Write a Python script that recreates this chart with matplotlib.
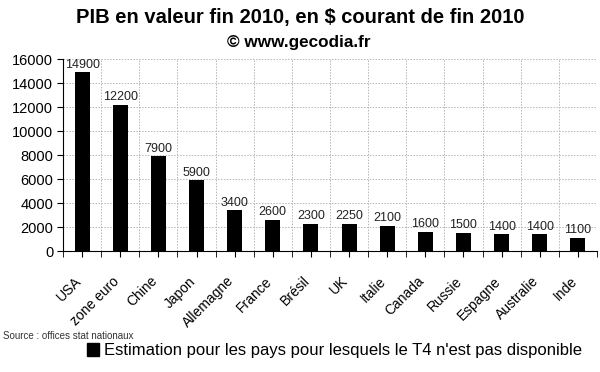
import matplotlib
matplotlib.use('Agg')
import matplotlib.pyplot as plt
import matplotlib.transforms as mtransforms
import numpy as np
from matplotlib.patches import Patch

# data
pays = ['USA', 'zone euro', 'Chine', 'Japon', 'Allemagne', 'France', 'Brésil',
        'UK', 'Italie', 'Canada', 'Russie', 'Espagne', 'Australie', 'Inde']
pib = [14900, 12200, 7900, 5900, 3400, 2600, 2300, 2250, 2100, 1600, 1500,
       1400, 1400, 1100]

plt.rcParams['font.family'] = ['Liberation Sans', 'DejaVu Sans']

fig = plt.figure(figsize=(6, 3.72), dpi=100)
ax = fig.add_axes([0.105, 0.325, 0.89, 0.516])

x = np.arange(len(pays))
bars = ax.bar(x, pib, width=0.39, color='black', zorder=3)

# value labels above the bars
for xi, v in zip(x, pib):
	ax.text(xi, v + 150, str(v), ha='center', va='bottom', fontsize=9,
	        color='#222222')

ax.set_xlim(-0.5, len(pays) - 0.5)
ax.set_ylim(0, 16000)
ax.set_yticks(np.arange(0, 16001, 2000))
ax.tick_params(axis='y', labelsize=10.5, length=4, pad=3)

# category labels, ticks at boundaries and at centres
ax.set_xticks(x)
ax.set_xticklabels(pays, rotation=45, ha='right', rotation_mode='anchor',
                   fontsize=10)
ax.set_xticks(np.arange(-0.5, len(pays), 1), minor=True)
ax.tick_params(axis='x', which='both', length=4, pad=6)
offset = mtransforms.ScaledTranslation(-8 / 100, -9 / 100, fig.dpi_scale_trans)
for lab in ax.get_xticklabels():
	lab.set_transform(lab.get_transform() + offset)

# dotted grid
ax.grid(axis='y', which='major', color='#b5b5b5', linestyle=(0, (1.5, 1.5)),
        linewidth=0.7, zorder=0)
ax.grid(axis='x', which='minor', color='#b5b5b5', linestyle=(0, (1.5, 1.5)),
        linewidth=0.7, zorder=0)
ax.grid(axis='x', which='major', visible=False)

for s in ['top', 'right']:
	ax.spines[s].set_visible(False)

# titles
fig.text(0.5, 0.952, 'PIB en valeur fin 2010, en $ courant de fin 2010',
         ha='center', va='center', fontsize=14.5, fontweight='bold')
fig.text(0.498, 0.885, '© www.gecodia.fr', ha='center', va='center',
         fontsize=12.3, fontweight='bold')

# source + legend
fig.text(0.005, 0.098, 'Source : offices stat nationaux', ha='left',
         va='center', fontsize=7, color='#333333',
         family=['Liberation Sans Narrow', 'Liberation Sans'])
handle = Patch(facecolor='black', edgecolor='black')
fig.legend([handle], ["Estimation pour les pays pour lesquels le T4 n'est pas disponible"],
           loc='center', bbox_to_anchor=(0.557, 0.058), frameon=False,
           fontsize=12, handlelength=0.7, handleheight=0.9, handletextpad=0.3)

fig.savefig('out.png', dpi=100)
